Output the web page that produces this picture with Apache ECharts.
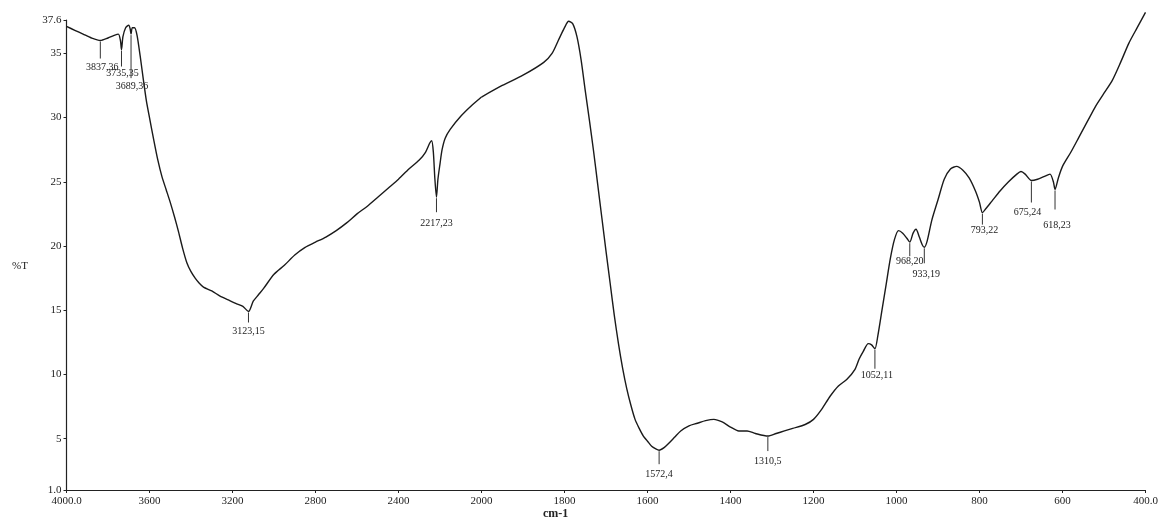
<!DOCTYPE html>
<html><head><meta charset="utf-8">
<script src="https://cdn.jsdelivr.net/npm/echarts@6/dist/echarts.min.js"></script>
<style>html,body{margin:0;padding:0;background:#fff}#c{width:1162px;height:525px}</style>
</head><body><div id="c"></div>
<script>
// ---- data ----
const wavenumbers = [4000,3960,3920,3880,3837,3800,3770,3750,3740,3735,3728,3715,3700,3693,3689,3683,3672,3660,3645,3630,3615,3600,3580,3560,3540,3520,3500,3480,3460,3440,3420,3400,3380,3360,3340,3300,3260,3220,3180,3150,3123,3100,3075,3050,3000,2950,2900,2850,2800,2750,2700,2650,2600,2550,2500,2450,2400,2350,2300,2270,2250,2240,2232,2225,2217,2210,2200,2190,2175,2150,2100,2050,2000,
1950,1900,1850,1830,1815,1800,1790,1780,1770,1760,1750,1740,1730,1720,1710,1700,1690,1680,1670,1660,1650,1640,1630,1620,1610,1600,1590,1580,1572,1560,1550,1535,1520,1500,1480,1460,1440,1420,1400,1380,1360,1340,1310,1290,1270,1250,1220,1200,1180,1160,1140,1120,1100,1090,1080,1068,1060,1052,1045,1035,1025,1015,1005,995,985,975,968,960,953,945,938,933,926,915,900,885,870,855,840,825,810,800,793,785,770,750,730,710,700,690,675,660,645,630,622,618,610,600,580,560,540,520,500,480,460,440,420,400];
const transmittance = [37.1,36.8,36.5,36.2,36.0,36.2,36.4,36.5,36.0,35.3,36.3,37.0,37.2,36.9,36.5,37.0,37.0,36.4,34.8,33.0,31.3,30.0,28.3,26.7,25.4,24.4,23.4,22.3,21.1,19.8,18.7,18.0,17.5,17.1,16.8,16.5,16.1,15.8,15.5,15.3,14.9,15.7,16.2,16.7,17.8,18.5,19.3,19.9,20.3,20.7,21.2,21.8,22.5,23.1,23.8,24.5,25.2,26.0,26.7,27.3,28.0,28.2,27.3,25.3,23.8,25.2,26.4,27.5,28.4,29.1,30.1,30.9,31.6,
32.5,33.3,34.3,35.0,36.0,37.0,37.5,37.3,36.3,34.5,32.1,29.8,27.4,24.8,22.2,19.6,17.1,14.6,12.4,10.5,8.9,7.6,6.5,5.8,5.2,4.8,4.4,4.2,4.1,4.3,4.6,5.1,5.6,6.0,6.2,6.4,6.5,6.3,5.9,5.6,5.6,5.4,5.2,5.4,5.6,5.8,6.1,6.5,7.3,8.3,9.1,9.6,10.4,11.2,11.8,12.4,12.3,12.0,13.0,15.0,17.0,19.0,20.5,21.2,21.0,20.6,20.3,21.0,21.3,20.7,20.1,19.9,20.4,22.0,23.6,25.2,26.0,26.2,25.9,25.3,24.3,23.4,22.6,22.9,23.5,24.3,25.0,25.6,25.8,25.6,25.1,25.2,25.4,25.6,25.0,24.4,25.3,26.2,27.3,28.5,29.7,30.9,31.9,32.9,34.3,35.8,37.0,38.2];

const peakWave   = [3837,3735,3689,3123,2217,1572,1310,1052,968,933,793,675,618];
const peakT      = [36.0,35.3,36.5,14.9,23.8,4.1,5.2,12.0,20.3,19.9,22.6,25.1,24.4];
const peakLabels = ['3837,36','3735,35','3689,36','3123,15','2217,23','1572,4','1310,5','1052,11','968,20','933,19','793,22','675,24','618,23'];

const xTickValues = [4000,3600,3200,2800,2400,2000,1800,1600,1400,1200,1000,800,600,400];
const xTickLabels = ['4000.0','3600','3200','2800','2400','2000','1800','1600','1400','1200','1000','800','600','400.0'];
const yTickValues = [1,5,10,15,20,25,30,35,37.6];
const yTickLabels = ['1.0','5','10','15','20','25','30','35','37.6'];

// ---- layout / style (not data) ----
const peakLayout = [
  {len:18,dx:2,dy:27},{len:17,dx:1,dy:24},{len:44,dx:1,dy:52},{len:11,dx:0,dy:20},
  {len:15,dx:0,dy:26},{len:14,dx:0,dy:24},{len:15,dx:0,dy:25},{len:20,dx:2,dy:27},
  {len:14,dx:0,dy:19},{len:16,dx:2,dy:27},{len:12,dx:2,dy:18},{len:22,dx:-4,dy:32},{len:20,dx:2,dy:36}
];
const FONT = '"Liberation Serif", "DejaVu Serif", serif';
const INK = '#222';

const hi = [], lo = [];
wavenumbers.forEach((w,i)=>{ if (w>=2000) hi.push([w,transmittance[i]]); if (w<=2000) lo.push([w,transmittance[i]]); });
const peaksHi = [], peaksLo = [];
peakWave.forEach((w,i)=>{ (w>=2000?peaksHi:peaksLo).push([w,peakT[i],i]); });

function xLabel(v){ const k = xTickValues.indexOf(v); return k>=0 ? xTickLabels[k] : ''; }
function yLabel(v){ const k = yTickValues.findIndex(t=>Math.abs(t-v)<1e-6); return k>=0 ? yTickLabels[k] : ''; }

function peakSeries(idx, data){
  return {
    type:'custom', xAxisIndex:idx, yAxisIndex:idx, clip:false, silent:true, z:5,
    data: data,
    renderItem(params, api){
      const i = api.value(2);
      const p = api.coord([api.value(0), api.value(1)]);
      const L = peakLayout[i];
      return {type:'group', children:[
        {type:'line', shape:{x1:p[0],y1:p[1]+1,x2:p[0],y2:p[1]+L.len}, style:{stroke:'#333', lineWidth:1}},
        {type:'text', x:p[0]+L.dx, y:p[1]+L.dy, style:{text:peakLabels[i], fill:INK, font:'10px '+FONT, align:'center', verticalAlign:'middle'}}
      ]};
    }
  };
}

const axisBase = {
  type:'value', inverse:true,
  axisLine:{show:true, onZero:false, lineStyle:{color:INK, width:1.2}},
  axisTick:{show:true, length:3, inside:false, lineStyle:{color:INK}},
  splitLine:{show:false},
  axisLabel:{color:INK, fontFamily:FONT, fontSize:11, margin:6, formatter:xLabel, showMinLabel:true, showMaxLabel:true}
};

const STEP = 83;
const chart = echarts.init(document.getElementById('c'), null, {renderer:'canvas'});
chart.setOption({
  backgroundColor:'#fff',
  animation:false,
  grid:[
    {left:66.5, top:20, width:5*STEP, height:470},
    {left:66.5+5*STEP, top:20, width:8*STEP, height:470}
  ],
  xAxis:[
    Object.assign({}, axisBase, {gridIndex:0, min:2000, max:4000, interval:400}),
    Object.assign({}, axisBase, {gridIndex:1, min:400, max:2000, interval:200,
      axisLabel:Object.assign({}, axisBase.axisLabel, {formatter:v=> v===2000 ? '' : xLabel(v)})})
  ],
  yAxis:[
    {gridIndex:0, type:'value', min:1, max:37.6,
     axisLine:{show:true, lineStyle:{color:INK, width:1.2}},
     axisTick:{show:true, length:3, customValues:yTickValues, lineStyle:{color:INK}},
     axisLabel:{color:INK, fontFamily:FONT, fontSize:11, margin:5, customValues:yTickValues, formatter:yLabel},
     splitLine:{show:false}},
    {gridIndex:1, type:'value', min:1, max:37.6, show:false, splitLine:{show:false}}
  ],
  series:[
    {type:'line', xAxisIndex:0, yAxisIndex:0, data:hi, showSymbol:false, smooth:0.25, clip:false,
     lineStyle:{color:'#1a1a1a', width:1.4}},
    {type:'line', xAxisIndex:1, yAxisIndex:1, data:lo, showSymbol:false, smooth:0.25, clip:false,
     lineStyle:{color:'#1a1a1a', width:1.4}},
    peakSeries(0, peaksHi),
    peakSeries(1, peaksLo)
  ],
  graphic:[
    {type:'text', left:12, top:261, style:{text:'%T', fill:INK, font:'11px '+FONT}},
    {type:'text', left:543, top:508, style:{text:'cm-1', fill:INK, font:'bold 12px '+FONT}}
  ]
});
</script></body></html>
